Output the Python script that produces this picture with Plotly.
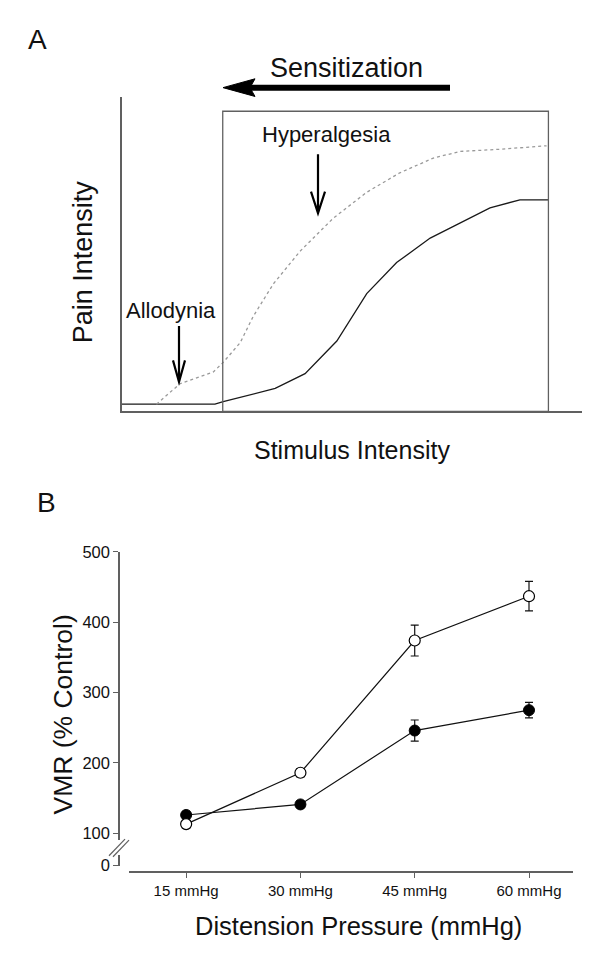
import plotly.graph_objects as go

# ---------------- Panel A data (schematic curves) ----------------
normal_x = [0, 20.2, 22.0, 33.3, 39.8, 46.7, 53.2, 59.7, 67.0, 80.0, 86.5, 92.7]
normal_y = [2.3, 2.3, 3.1, 7.3, 12.0, 22.4, 37.5, 47.4, 55.2, 64.8, 67.4, 67.4]

sensitized_x = [7.5, 12.6, 19.8, 22.0, 25.7, 28.5, 32.9, 38.7, 45.9, 53.2, 60.4, 67.7, 73.5, 82.2, 92.3]
sensitized_y = [2.3, 8.8, 12.5, 15.6, 21.9, 30.2, 40.6, 51.0, 61.5, 69.8, 76.0, 80.7, 82.8, 83.5, 84.6]

# ---------------- Panel B data ----------------
pressures = ["15 mmHg", "30 mmHg", "45 mmHg", "60 mmHg"]
open_vmr = [113, 186, 374, 437]
open_err = [5, 6, 22, 21]
filled_vmr = [126, 141, 246, 275]
filled_err = [5, 5, 15, 11]
y_ticks_main = [100, 200, 300, 400, 500]
y_ticks_low = [0]

# page is 600x957; the html body has an 8px default margin
OFF = 8
W, H = 600 - OFF, 957 - OFF
def fx(px):
    return (px - OFF) / W
def fy(py):
    return 1 - (py - OFF) / H

FONT = "Liberation Sans, Arial, Helvetica, sans-serif"
TXT = "#111111"
AX = "#606060"

fig = go.Figure()

# Panel A curves
fig.add_trace(go.Scatter(x=normal_x, y=normal_y, mode="lines",
                         line=dict(color="#1a1a1a", width=1.3),
                         xaxis="x", yaxis="y", showlegend=False, hoverinfo="skip"))
fig.add_trace(go.Scatter(x=sensitized_x, y=sensitized_y, mode="lines",
                         line=dict(color="#9a9a9a", width=1.3, dash="dot"),
                         xaxis="x", yaxis="y", showlegend=False, hoverinfo="skip"))

# Panel B series
fig.add_trace(go.Scatter(x=pressures, y=filled_vmr, mode="lines+markers",
                         line=dict(color="#111111", width=1.2),
                         marker=dict(symbol="circle", size=11, color="#000000",
                                     line=dict(color="#000000", width=1)),
                         error_y=dict(type="data", array=filled_err, color="#111111",
                                      thickness=1.2, width=4),
                         xaxis="x2", yaxis="y2", showlegend=False))
fig.add_trace(go.Scatter(x=pressures, y=open_vmr, mode="lines+markers",
                         line=dict(color="#111111", width=1.2),
                         marker=dict(symbol="circle", size=11, color="#ffffff",
                                     line=dict(color="#000000", width=1.2)),
                         error_y=dict(type="data", array=open_err, color="#111111",
                                      thickness=1.2, width=4),
                         xaxis="x2", yaxis="y2", showlegend=False))
# empty trace to register the lower (broken) y-axis segment
fig.add_trace(go.Scatter(x=[], y=[], xaxis="x2", yaxis="y3", showlegend=False))

common_hidden = dict(showgrid=False, zeroline=False, showticklabels=False, ticks="",
                     showline=True, linecolor=AX, linewidth=1.5, fixedrange=True)

layout = dict(
    width=W, height=H,
    margin=dict(l=0, r=0, t=0, b=0),
    paper_bgcolor="white", plot_bgcolor="rgba(0,0,0,0)",
    font=dict(family=FONT, color=TXT),
    xaxis=dict(domain=[fx(122), fx(582)], range=[0, 100], anchor="y", **common_hidden),
    yaxis=dict(domain=[fy(410), fy(90)], range=[0, 100], anchor="x", **common_hidden),
    xaxis2=dict(domain=[fx(129), fx(573)], anchor="free", position=fy(880),
                type="category", categoryorder="array", categoryarray=pressures,
                range=[-0.5, 3.385], showgrid=False, zeroline=False,
                showline=True, linecolor=AX, linewidth=1.5,
                ticks="outside", ticklen=5, tickcolor=AX, tickwidth=1.2,
                tickfont=dict(size=15, color=TXT, family=FONT)),
    yaxis2=dict(domain=[fy(847), fy(553)], anchor="free", position=fx(119),
                range=[90.3, 500.3], tickvals=y_ticks_main,
                showgrid=False, zeroline=False,
                showline=True, linecolor=AX, linewidth=1.5,
                ticks="outside", ticklen=5, tickcolor=AX, tickwidth=1.2,
                tickfont=dict(size=16.5, color=TXT, family=FONT)),
    yaxis3=dict(domain=[fy(873), fy(862)], anchor="free", position=fx(119),
                range=[0, 15.3], tickvals=y_ticks_low,
                showgrid=False, zeroline=False,
                showline=True, linecolor=AX, linewidth=1.5,
                ticks="outside", ticklen=5, tickcolor=AX, tickwidth=1.2,
                tickfont=dict(size=16.5, color=TXT, family=FONT)),
)
fig.update_layout(**layout)

shapes = []
# Box in panel A
shapes.append(dict(type="rect", xref="x", yref="y", x0=21.9, x1=92.7, y0=0, y1=95.6,
                   line=dict(color=AX, width=1.3), fillcolor="rgba(0,0,0,0)"))
# Sensitization arrow (paper coords)
shapes.append(dict(type="line", xref="paper", yref="paper",
                   x0=fx(450), x1=fx(248), y0=fy(80), y1=fy(80),
                   line=dict(color="#000000", width=6)))
shapes.append(dict(type="path", xref="paper", yref="paper",
                   path=f"M {fx(223)},{fy(80)} L {fx(255)},{fy(71)} L {fx(250)},{fy(80)} L {fx(255)},{fy(89)} Z",
                   fillcolor="#000000", line=dict(color="#000000", width=1)))
# Hyperalgesia arrow
shapes.append(dict(type="path", xref="paper", yref="paper",
                   path=(f"M {fx(318)},{fy(148)} L {fx(318)},{fy(208)} "
                         f"M {fx(311)},{fy(186)} L {fx(318)},{fy(208)} L {fx(325)},{fy(186)}"),
                   line=dict(color="#000000", width=2.2)))
# Allodynia arrow
shapes.append(dict(type="path", xref="paper", yref="paper",
                   path=(f"M {fx(179)},{fy(323)} L {fx(179)},{fy(380)} "
                         f"M {fx(173)},{fy(358)} L {fx(179)},{fy(380)} L {fx(185)},{fy(358)}"),
                   line=dict(color="#000000", width=2.2)))
# Axis break marks in panel B
shapes.append(dict(type="line", xref="paper", yref="paper",
                   x0=fx(109), y0=fy(863), x1=fx(125), y1=fy(846),
                   line=dict(color=AX, width=1.2)))
shapes.append(dict(type="line", xref="paper", yref="paper",
                   x0=fx(113), y0=fy(864), x1=fx(129), y1=fy(847),
                   line=dict(color=AX, width=1.2)))
fig.update_layout(shapes=shapes)

def ann(text, x, y, size, angle=0):
    return dict(text=text, x=fx(x), y=fy(y), xref="paper", yref="paper",
                showarrow=False, xanchor="center", yanchor="middle",
                textangle=angle, font=dict(size=size, color=TXT, family=FONT))

annotations = [
    ann("A", 37, 31, 28),
    ann("B", 47, 503, 28),
    ann("Sensitization", 346, 60, 27),
    ann("Hyperalgesia", 326, 128, 22),
    ann("Allodynia", 171, 307, 22),
    ann("Pain Intensity", 83, 258, 27, -90),
    ann("Stimulus Intensity", 352, 449, 25),
    ann("VMR (% Control)", 63, 719, 26.5, -90),
    ann("Distension Pressure (mmHg)", 358, 935, 25.5),
]
fig.update_layout(annotations=annotations)

fig.write_html("out.html")
